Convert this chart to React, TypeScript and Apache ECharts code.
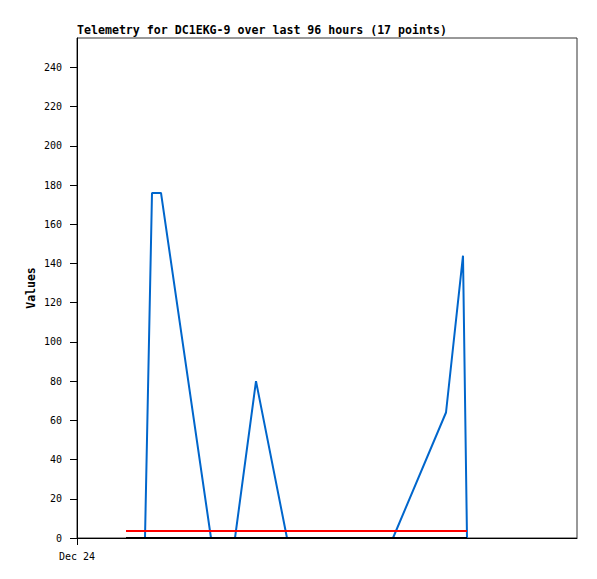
import React, { useEffect, useRef } from "react";
import * as echarts from "echarts";

// hours since start of the x range (Dec 24)
const blueHours = [9.8, 13.6, 15.0, 16.8, 26.8, 31.6, 35.8, 42.0, 63.2, 73.8, 77.2, 78.0];
const blueValues = [0, 0, 176, 176, 0, 0, 80, 0, 0, 64, 144, 0];
const flatHours = [9.8, 78.0];
const redValues = [3.6, 3.6];
const blackValues = [0, 0];
const xTickLabels = ["Dec 24"];
const yTicks = [0, 20, 40, 60, 80, 100, 120, 140, 160, 180, 200, 220, 240];

const mono = "'DejaVu Sans Mono', 'Liberation Mono', monospace";

export default function App() {
  const ref = useRef<HTMLDivElement>(null);
  useEffect(() => {
    if (!ref.current) return;
    const chart = echarts.init(ref.current, null, { renderer: "svg" });
    const pairs = (xs: number[], ys: number[]) => xs.map((x, i) => [x, ys[i]]);
    chart.setOption({
      animation: false,
      backgroundColor: "#ffffff",
      title: {
        text: "Telemetry for DC1EKG-9 over last 96 hours (17 points)",
        left: 77,
        top: 24,
        padding: 0,
        textStyle: { fontFamily: mono, fontSize: 11.6, fontWeight: "bold", color: "#000" },
      },
      grid: {
        left: 77,
        top: 38,
        width: 500,
        height: 500,
        show: true,
        borderColor: "#333",
        borderWidth: 1,
        containLabel: false,
      },
      xAxis: {
        type: "value",
        min: 0,
        max: 100,
        interval: 100,
        splitLine: { show: false },
        axisLine: { show: true, onZero: false, lineStyle: { color: "#000", width: 1 } },
        axisTick: { show: true, length: 7, customValues: [0], lineStyle: { color: "#000" } },
        axisLabel: {
          customValues: [0],
          margin: 13,
          fontFamily: mono,
          fontSize: 10,
          color: "#000",
          formatter: (v: number) => (v === 0 ? xTickLabels[0] : ""),
        },
      },
      yAxis: {
        type: "value",
        min: 0,
        max: 255,
        interval: 20,
        name: "Values",
        nameLocation: "middle",
        nameGap: 40,
        nameMoveOverlap: false,
        nameRotate: 90,
        nameTextStyle: { fontFamily: mono, fontSize: 11.5, fontWeight: "bold", color: "#000" },
        splitLine: { show: false },
        axisLine: { show: true, lineStyle: { color: "#000", width: 1 } },
        axisTick: { show: true, length: 7, customValues: yTicks, lineStyle: { color: "#000" } },
        axisLabel: {
          customValues: yTicks,
          margin: 15,
          fontFamily: mono,
          fontSize: 10,
          color: "#000",
          formatter: (v: number) => (v % 20 === 0 ? String(v) : ""),
        },
      },
      series: [
        {
          type: "line",
          data: pairs(blueHours, blueValues),
          showSymbol: false,
          lineStyle: { color: "#0066cc", width: 2 },
          itemStyle: { color: "#0066cc" },
          z: 2,
        },
        {
          type: "line",
          data: pairs(flatHours, redValues),
          showSymbol: false,
          lineStyle: { color: "#ff0000", width: 2 },
          itemStyle: { color: "#ff0000" },
          z: 3,
        },
        {
          type: "line",
          data: pairs(flatHours, blackValues),
          showSymbol: false,
          lineStyle: { color: "#000000", width: 2 },
          itemStyle: { color: "#000000" },
          z: 4,
        },
      ],
    });
    return () => chart.dispose();
  }, []);
  return (
    <div
      ref={ref}
      style={{ position: "fixed", left: 0, top: 0, width: 597, height: 579, background: "#fff" }}
    />
  );
}
